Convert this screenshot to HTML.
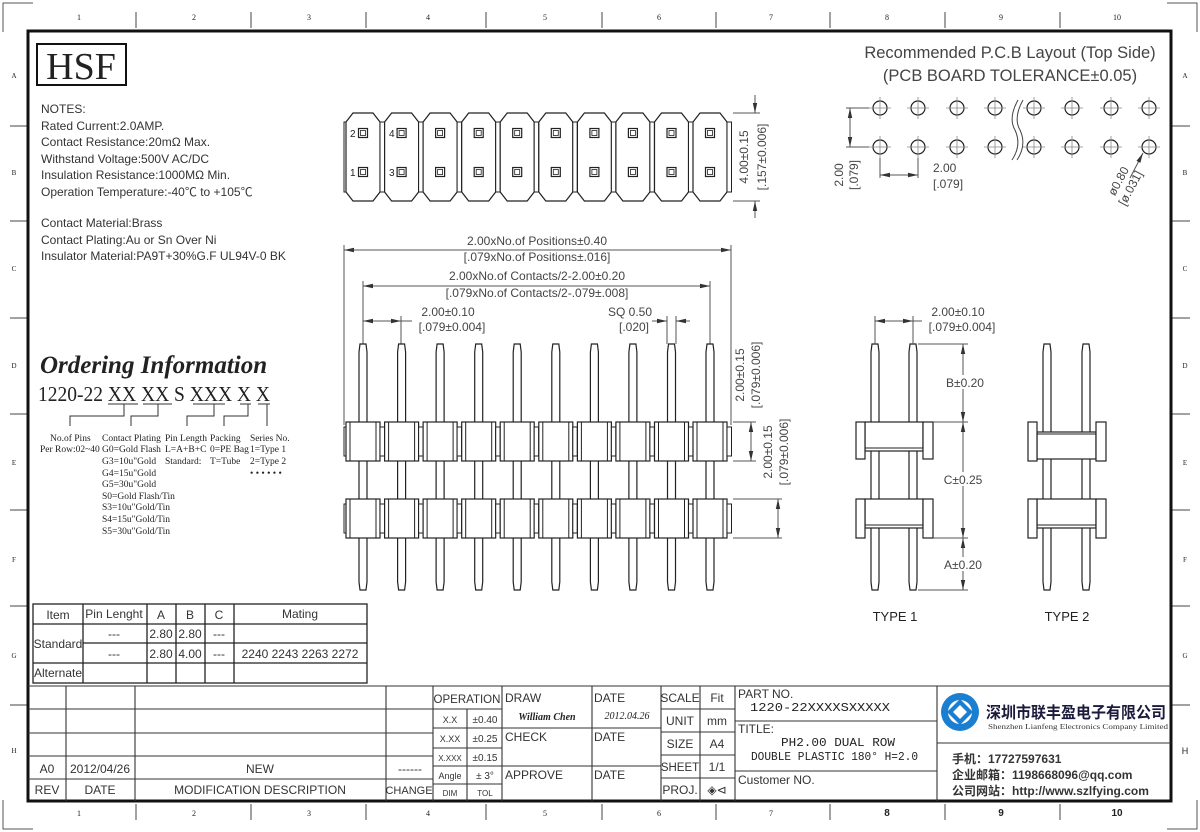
<!DOCTYPE html>
<html><head><meta charset="utf-8"><style>
html,body{margin:0;padding:0;background:#fff;}
svg{display:block;}
text{font-family:"Liberation Sans","Noto Sans CJK SC",sans-serif;fill:#222;}
.s{font-family:"Liberation Serif","Noto Serif CJK SC",serif;}
.m{font-family:"Liberation Mono",monospace;}
.t{font-size:12px;fill:#333;}
.d{font-size:12px;fill:#444;}
</style></head><body>
<svg width="1200" height="832" viewBox="0 0 1200 832" xmlns="http://www.w3.org/2000/svg">
<defs>
<marker id="a" viewBox="0 0 10 6" refX="10" refY="3" markerWidth="10" markerHeight="6" orient="auto-start-reverse" markerUnits="userSpaceOnUse"><path d="M0,0.8L10,3L0,5.2Z" fill="#333"/></marker>
<g id="tc">
<path d="M-10,113 L10,113 L17,122 L17,192 L10,201 L-10,201 L-17,192 L-17,122 Z" fill="#fff" stroke="#222" stroke-width="1.2"/>
<rect x="17" y="122" width="4.5" height="70" fill="#fff" stroke="#222" stroke-width="1"/>
<rect x="-4.5" y="128.5" width="9" height="9" fill="none" stroke="#222" stroke-width="1.2"/>
<rect x="-2.5" y="130.5" width="5" height="5" fill="none" stroke="#222" stroke-width="0.8"/>
<rect x="-4.5" y="167.5" width="9" height="9" fill="none" stroke="#222" stroke-width="1.2"/>
<rect x="-2.5" y="169.5" width="5" height="5" fill="none" stroke="#222" stroke-width="0.8"/>
</g>
<g id="pin">
<path d="M-3,344 L3,344 L4,352 L4,582 L3,590 L-3,590 L-4,582 L-4,352 Z" fill="#fff" stroke="#222" stroke-width="1.2"/>
</g>
<g id="fb">
<rect x="-17" y="0" width="34" height="39" fill="#fff" stroke="#222" stroke-width="1.2"/>
<line x1="-13" y1="0" x2="-13" y2="39" stroke="#222"/>
<line x1="13" y1="0" x2="13" y2="39" stroke="#222"/>
<rect x="17" y="5" width="4.5" height="29" fill="#fff" stroke="#222"/>
</g>
<g id="ph">
<circle r="7" fill="none" stroke="#222" stroke-width="1.2"/>
<line x1="-11" y1="0" x2="11" y2="0" stroke="#888" stroke-width="0.8"/>
<line x1="0" y1="-11" x2="0" y2="11" stroke="#888" stroke-width="0.8"/>
</g>
</defs>

<path d="M3,32 L3,3 L33,3" fill="none" stroke="#555"/>
<path d="M3,800 L3,829 L33,829" fill="none" stroke="#555"/>
<path d="M1167,3 L1197,3 L1197,32" fill="none" stroke="#555"/>
<path d="M1167,829 L1197,829 L1197,800" fill="none" stroke="#555"/>
<g stroke="#444" stroke-width="1">
<line x1="136" y1="12" x2="136" y2="28"/><line x1="251" y1="12" x2="251" y2="28"/><line x1="366" y1="12" x2="366" y2="28"/><line x1="486" y1="12" x2="486" y2="28"/><line x1="602" y1="12" x2="602" y2="28"/><line x1="716" y1="12" x2="716" y2="28"/><line x1="830" y1="12" x2="830" y2="28"/><line x1="945" y1="12" x2="945" y2="28"/><line x1="1060" y1="12" x2="1060" y2="28"/>
<line x1="136" y1="804" x2="136" y2="820"/><line x1="251" y1="804" x2="251" y2="820"/><line x1="366" y1="804" x2="366" y2="820"/><line x1="486" y1="804" x2="486" y2="820"/><line x1="602" y1="804" x2="602" y2="820"/><line x1="716" y1="804" x2="716" y2="820"/><line x1="830" y1="804" x2="830" y2="820"/><line x1="945" y1="804" x2="945" y2="820"/><line x1="1060" y1="804" x2="1060" y2="820"/>
<line x1="10" y1="126" x2="27" y2="126"/><line x1="10" y1="221" x2="27" y2="221"/><line x1="10" y1="318" x2="27" y2="318"/><line x1="10" y1="414" x2="27" y2="414"/><line x1="10" y1="510" x2="27" y2="510"/><line x1="10" y1="606" x2="27" y2="606"/><line x1="10" y1="705" x2="27" y2="705"/>
<line x1="1172" y1="126" x2="1190" y2="126"/><line x1="1172" y1="221" x2="1190" y2="221"/><line x1="1172" y1="318" x2="1190" y2="318"/><line x1="1172" y1="414" x2="1190" y2="414"/><line x1="1172" y1="510" x2="1190" y2="510"/><line x1="1172" y1="606" x2="1190" y2="606"/><line x1="1172" y1="705" x2="1190" y2="705"/>
</g>
<g text-anchor="middle" fill="#444">
<text x="79" y="20" class="s" font-size="8">1</text><text x="194" y="20" class="s" font-size="8">2</text><text x="309" y="20" class="s" font-size="8">3</text><text x="428" y="20" class="s" font-size="8">4</text><text x="545" y="20" class="s" font-size="8">5</text><text x="659" y="20" class="s" font-size="8">6</text><text x="771" y="20" class="s" font-size="8">7</text><text x="887" y="20" class="s" font-size="8">8</text><text x="1001" y="20" class="s" font-size="8">9</text><text x="1117" y="20" class="s" font-size="8">10</text>
<text x="79" y="816" class="s" font-size="8">1</text><text x="194" y="816" class="s" font-size="8">2</text><text x="309" y="816" class="s" font-size="8">3</text><text x="428" y="816" class="s" font-size="8">4</text><text x="545" y="816" class="s" font-size="8">5</text><text x="659" y="816" class="s" font-size="8">6</text><text x="771" y="816" class="s" font-size="8">7</text><text x="887" y="816" font-size="10" font-weight="bold">8</text><text x="1001" y="816" font-size="10" font-weight="bold">9</text><text x="1117" y="816" font-size="10" font-weight="bold">10</text>
<text x="14" y="78" class="s" font-size="7">A</text><text x="14" y="175" class="s" font-size="7">B</text><text x="14" y="271" class="s" font-size="7">C</text><text x="14" y="368" class="s" font-size="7">D</text><text x="14" y="465" class="s" font-size="7">E</text><text x="14" y="562" class="s" font-size="7">F</text><text x="14" y="658" class="s" font-size="7">G</text><text x="14" y="753" class="s" font-size="7">H</text>
<text x="1185" y="78" class="s" font-size="7">A</text><text x="1185" y="175" class="s" font-size="7">B</text><text x="1185" y="271" class="s" font-size="7">C</text><text x="1185" y="368" class="s" font-size="7">D</text><text x="1185" y="465" class="s" font-size="7">E</text><text x="1185" y="562" class="s" font-size="7">F</text><text x="1185" y="658" class="s" font-size="7">G</text><text x="1185" y="754" font-size="9">H</text>
</g>
<rect x="28" y="31" width="1143" height="770" fill="none" stroke="#111" stroke-width="3"/>

<rect x="37" y="44" width="89" height="41" fill="none" stroke="#111" stroke-width="2"/>
<text x="81" y="79" class="s" font-size="38" text-anchor="middle" fill="#111">HSF</text>

<g>
<text x="41" y="113" class="t" font-size="12.5">NOTES:</text>
<text x="41" y="130" class="t">Rated Current:2.0AMP.</text>
<text x="41" y="146" class="t">Contact Resistance:20mΩ Max.</text>
<text x="41" y="163" class="t">Withstand Voltage:500V AC/DC</text>
<text x="41" y="179" class="t">Insulation Resistance:1000MΩ Min.</text>
<text x="41" y="196" class="t">Operation Temperature:-40℃ to +105℃</text>
<text x="41" y="227" class="t">Contact Material:Brass</text>
<text x="41" y="244" class="t">Contact Plating:Au or Sn Over Ni</text>
<text x="41" y="260" class="t">Insulator Material:PA9T+30%G.F UL94V-0 BK</text>
</g>

<text x="40" y="373" class="s" font-size="25" font-weight="bold" font-style="italic" fill="#111">Ordering Information</text>
<text x="38" y="401" class="s" font-size="21" fill="#111" textLength="232" lengthAdjust="spacingAndGlyphs">1220-22 XX XX S XXX X X</text>
<g stroke="#333" fill="none">
<line x1="108" y1="404" x2="138" y2="404"/><line x1="143" y1="404" x2="172" y2="404"/><line x1="193" y1="404" x2="225" y2="404"/><line x1="240" y1="404" x2="251" y2="404"/><line x1="258" y1="404" x2="270" y2="404"/>
<path d="M124,404 V416 H70 V426"/><path d="M158,404 V416 H131 V426"/><path d="M214,404 V416 H187 V426"/><path d="M248,404 V416 H224 V426"/><path d="M267,404 V426"/>
</g>
<g fill="#111">
<text x="50" y="441" class="s" font-size="9.5">No.of Pins</text>
<text x="40" y="452" class="s" font-size="9.5">Per Row:02~40</text>
<text x="102" y="441" class="s" font-size="9.5">Contact Plating</text>
<text x="102" y="452" class="s" font-size="9.5">G0=Gold Flash</text>
<text x="102" y="464" class="s" font-size="9.5">G3=10u"Gold</text>
<text x="102" y="476" class="s" font-size="9.5">G4=15u"Gold</text>
<text x="102" y="487" class="s" font-size="9.5">G5=30u"Gold</text>
<text x="102" y="499" class="s" font-size="9.5">S0=Gold Flash/Tin</text>
<text x="102" y="510" class="s" font-size="9.5">S3=10u"Gold/Tin</text>
<text x="102" y="522" class="s" font-size="9.5">S4=15u"Gold/Tin</text>
<text x="102" y="534" class="s" font-size="9.5">S5=30u"Gold/Tin</text>
<text x="165" y="441" class="s" font-size="9.5">Pin Length</text>
<text x="165" y="452" class="s" font-size="9.5">L=A+B+C</text>
<text x="165" y="464" class="s" font-size="9.5">Standard:</text>
<text x="210" y="441" class="s" font-size="9.5">Packing</text>
<text x="210" y="452" class="s" font-size="9.5">0=PE Bag</text>
<text x="210" y="464" class="s" font-size="9.5">T=Tube</text>
<text x="250" y="441" class="s" font-size="9.5">Series No.</text>
<text x="250" y="452" class="s" font-size="9.5">1=Type 1</text>
<text x="250" y="464" class="s" font-size="9.5">2=Type 2</text>
<text x="250" y="476" class="s" font-size="9.5">• • • • • •</text>
</g>

<rect x="344" y="122" width="3" height="70" fill="#fff" stroke="#222"/>
<use href="#tc" x="363"/><use href="#tc" x="401.6"/><use href="#tc" x="440.1"/><use href="#tc" x="478.7"/><use href="#tc" x="517.2"/><use href="#tc" x="555.8"/><use href="#tc" x="594.4"/><use href="#tc" x="632.9"/><use href="#tc" x="671.5"/><use href="#tc" x="710"/>
<g><text x="350" y="137" font-size="10">2</text><text x="350" y="176" font-size="10">1</text><text x="389" y="137" font-size="10">4</text><text x="389" y="176" font-size="10">3</text></g>
<g stroke="#555" fill="none">
<line x1="733" y1="113" x2="760" y2="113"/><line x1="733" y1="201" x2="760" y2="201"/>
<line x1="755" y1="95" x2="755" y2="113" marker-end="url(#a)"/><line x1="755" y1="218" x2="755" y2="201" marker-end="url(#a)"/>
</g>
<text transform="translate(748,157) rotate(-90)" class="d" text-anchor="middle">4.00±0.15</text>
<text transform="translate(766,157) rotate(-90)" class="d" text-anchor="middle">[.157±0.006]</text>

<g stroke="#555" fill="none">
<line x1="344" y1="245" x2="344" y2="425"/><line x1="731" y1="245" x2="731" y2="425"/>
<line x1="344" y1="250" x2="731" y2="250" marker-start="url(#a)" marker-end="url(#a)"/>
<line x1="363" y1="281" x2="363" y2="344"/><line x1="710" y1="281" x2="710" y2="344"/>
<line x1="363" y1="286" x2="710" y2="286" marker-start="url(#a)" marker-end="url(#a)"/>
<line x1="401" y1="316" x2="401" y2="344"/>
<line x1="363" y1="321" x2="401" y2="321" marker-start="url(#a)" marker-end="url(#a)"/>
<line x1="401" y1="321" x2="412" y2="321"/>
<line x1="667" y1="316" x2="667" y2="344"/><line x1="676" y1="316" x2="676" y2="344"/>
<line x1="652" y1="321" x2="667" y2="321" marker-end="url(#a)"/><line x1="690" y1="321" x2="676" y2="321" marker-end="url(#a)"/>
<line x1="733" y1="422" x2="756" y2="422"/><line x1="733" y1="461" x2="756" y2="461"/>
<line x1="751" y1="422" x2="751" y2="461" marker-start="url(#a)" marker-end="url(#a)"/>
<line x1="733" y1="499" x2="782" y2="499"/><line x1="733" y1="538" x2="782" y2="538"/>
<line x1="778" y1="499" x2="778" y2="538" marker-start="url(#a)" marker-end="url(#a)"/>
</g>
<g text-anchor="middle">
<text x="537" y="245" class="d">2.00xNo.of Positions±0.40</text>
<text x="537" y="261" class="d">[.079xNo.of Positions±.016]</text>
<text x="537" y="280" class="d">2.00xNo.of Contacts/2-2.00±0.20</text>
<text x="537" y="297" class="d">[.079xNo.of Contacts/2-.079±.008]</text>
<text x="448" y="316" class="d">2.00±0.10</text>
<text x="452" y="331" class="d">[.079±0.004]</text>
<text x="630" y="316" class="d">SQ 0.50</text>
<text x="634" y="331" class="d">[.020]</text>
</g>
<text transform="translate(744,375) rotate(-90)" class="d" text-anchor="middle">2.00±0.15</text>
<text transform="translate(760,375) rotate(-90)" class="d" text-anchor="middle">[.079±0.006]</text>
<text transform="translate(772,452) rotate(-90)" class="d" text-anchor="middle">2.00±0.15</text>
<text transform="translate(788,452) rotate(-90)" class="d" text-anchor="middle">[.079±0.006]</text>

<use href="#pin" x="363"/><use href="#pin" x="401.6"/><use href="#pin" x="440.1"/><use href="#pin" x="478.7"/><use href="#pin" x="517.2"/><use href="#pin" x="555.8"/><use href="#pin" x="594.4"/><use href="#pin" x="632.9"/><use href="#pin" x="671.5"/><use href="#pin" x="710"/>
<rect x="344" y="427" width="3" height="29" fill="#fff" stroke="#222"/>
<rect x="344" y="504" width="3" height="29" fill="#fff" stroke="#222"/>
<g>
<use href="#fb" x="363" y="422"/><use href="#fb" x="401.6" y="422"/><use href="#fb" x="440.1" y="422"/><use href="#fb" x="478.7" y="422"/><use href="#fb" x="517.2" y="422"/><use href="#fb" x="555.8" y="422"/><use href="#fb" x="594.4" y="422"/><use href="#fb" x="632.9" y="422"/><use href="#fb" x="671.5" y="422"/><use href="#fb" x="710" y="422"/>
<use href="#fb" x="363" y="499"/><use href="#fb" x="401.6" y="499"/><use href="#fb" x="440.1" y="499"/><use href="#fb" x="478.7" y="499"/><use href="#fb" x="517.2" y="499"/><use href="#fb" x="555.8" y="499"/><use href="#fb" x="594.4" y="499"/><use href="#fb" x="632.9" y="499"/><use href="#fb" x="671.5" y="499"/><use href="#fb" x="710" y="499"/>
</g>

<text x="1010" y="58" font-size="16.5" style="fill:#444" text-anchor="middle">Recommended P.C.B Layout (Top Side)</text>
<text x="1010" y="81" font-size="16.5" style="fill:#444" text-anchor="middle">(PCB BOARD TOLERANCE±0.05)</text>
<use href="#ph" x="880" y="108"/><use href="#ph" x="918" y="108"/><use href="#ph" x="957" y="108"/><use href="#ph" x="995" y="108"/><use href="#ph" x="1034" y="108"/><use href="#ph" x="1072" y="108"/><use href="#ph" x="1111" y="108"/><use href="#ph" x="1149" y="108"/>
<use href="#ph" x="880" y="147"/><use href="#ph" x="918" y="147"/><use href="#ph" x="957" y="147"/><use href="#ph" x="995" y="147"/><use href="#ph" x="1034" y="147"/><use href="#ph" x="1072" y="147"/><use href="#ph" x="1111" y="147"/><use href="#ph" x="1149" y="147"/>
<path d="M1018,100 Q1008,118 1015,130 Q1022,145 1012,160" fill="none" stroke="#444"/>
<path d="M1023,100 Q1013,118 1020,130 Q1027,145 1017,160" fill="none" stroke="#444"/>
<g stroke="#555" fill="none">
<line x1="846" y1="108" x2="869" y2="108"/><line x1="846" y1="147" x2="869" y2="147"/>
<line x1="850" y1="108" x2="850" y2="147" marker-start="url(#a)" marker-end="url(#a)"/>
<line x1="880" y1="158" x2="880" y2="178"/><line x1="918" y1="158" x2="918" y2="178"/>
<line x1="880" y1="175" x2="918" y2="175" marker-start="url(#a)" marker-end="url(#a)"/>
<line x1="1130" y1="178" x2="1143" y2="153" marker-end="url(#a)"/>
</g>
<text transform="translate(843,175) rotate(-90)" class="d" text-anchor="middle">2.00</text>
<text transform="translate(858,175) rotate(-90)" class="d" text-anchor="middle">[.079]</text>
<text x="933" y="172" class="d">2.00</text>
<text x="933" y="188" class="d">[.079]</text>
<text transform="translate(1122,183) rotate(-62)" class="d" font-size="11" text-anchor="middle">ø0.80</text>
<text transform="translate(1134,190) rotate(-62)" class="d" font-size="11" text-anchor="middle">[ø.031]</text>

<use href="#pin" x="875"/><use href="#pin" x="913"/>
<g fill="#fff" stroke="#222" stroke-width="1.2">
<rect x="865" y="422" width="58" height="29"/><rect x="865" y="499" width="58" height="29"/>
<rect x="856" y="422" width="9" height="37"/><rect x="923" y="422" width="10" height="37"/>
<rect x="856" y="499" width="9" height="39"/><rect x="923" y="499" width="10" height="39"/>
</g>
<g stroke="#222"><line x1="865" y1="448" x2="923" y2="448"/><line x1="865" y1="525" x2="923" y2="525"/></g>
<g stroke="#555" fill="none">
<line x1="875" y1="316" x2="875" y2="344"/><line x1="913" y1="316" x2="913" y2="344"/>
<line x1="875" y1="321" x2="913" y2="321" marker-start="url(#a)" marker-end="url(#a)"/>
<line x1="913" y1="321" x2="922" y2="321"/>
<line x1="918" y1="344" x2="968" y2="344"/><line x1="933" y1="422" x2="968" y2="422"/><line x1="933" y1="538" x2="968" y2="538"/><line x1="918" y1="590" x2="968" y2="590"/>
<line x1="963" y1="344" x2="963" y2="422" marker-start="url(#a)" marker-end="url(#a)"/>
<line x1="963" y1="422" x2="963" y2="538" marker-start="url(#a)" marker-end="url(#a)"/>
<line x1="963" y1="538" x2="963" y2="590" marker-start="url(#a)" marker-end="url(#a)"/>
</g>
<rect x="944" y="375" width="40" height="14" fill="#fff"/><rect x="942" y="472" width="42" height="14" fill="#fff"/><rect x="942" y="557" width="42" height="14" fill="#fff"/>
<g text-anchor="middle">
<text x="958" y="316" class="d">2.00±0.10</text>
<text x="962" y="331" class="d">[.079±0.004]</text>
<text x="965" y="387" class="d">B±0.20</text>
<text x="963" y="484" class="d">C±0.25</text>
<text x="963" y="569" class="d">A±0.20</text>
</g>
<text x="895" y="621" font-size="13" text-anchor="middle">TYPE 1</text>
<use href="#pin" x="1047"/><use href="#pin" x="1086"/>
<g fill="#fff" stroke="#222" stroke-width="1.2">
<rect x="1037" y="432" width="59" height="27"/><rect x="1037" y="499" width="59" height="29"/>
<rect x="1028" y="422" width="9" height="39"/><rect x="1096" y="422" width="10" height="39"/>
<rect x="1028" y="499" width="9" height="39"/><rect x="1096" y="499" width="10" height="39"/>
</g>
<g stroke="#222"><line x1="1037" y1="434" x2="1096" y2="434"/><line x1="1037" y1="525" x2="1096" y2="525"/></g>
<text x="1067" y="621" font-size="13" text-anchor="middle">TYPE 2</text>

<g stroke="#222" stroke-width="1.3" fill="none">
<rect x="33" y="604" width="334" height="79"/>
<line x1="83" y1="604" x2="83" y2="683"/><line x1="147" y1="604" x2="147" y2="663"/><line x1="176" y1="604" x2="176" y2="683"/><line x1="205" y1="604" x2="205" y2="683"/><line x1="234" y1="604" x2="234" y2="683"/>
<line x1="33" y1="624" x2="367" y2="624"/><line x1="83" y1="643" x2="367" y2="643"/><line x1="33" y1="663" x2="367" y2="663"/>
<line x1="147" y1="663" x2="147" y2="683"/>
</g>
<g text-anchor="middle">
<text x="58" y="619" class="t">Item</text><text x="114" y="618" class="t">Pin Lenght</text><text x="161" y="619" class="t">A</text><text x="190" y="619" class="t">B</text><text x="219" y="619" class="t">C</text><text x="300" y="618" class="t">Mating</text>
<text x="58" y="648" class="t">Standard</text>
<text x="114" y="638" class="t">---</text><text x="161" y="638" class="t">2.80</text><text x="190" y="638" class="t">2.80</text><text x="219" y="638" class="t">---</text>
<text x="114" y="658" class="t">---</text><text x="161" y="658" class="t">2.80</text><text x="190" y="658" class="t">4.00</text><text x="219" y="658" class="t">---</text><text x="300" y="658" class="t">2240 2243 2263 2272</text>
<text x="58" y="677" class="t">Alternate</text>
</g>

<g stroke="#333" stroke-width="1.1" fill="none">
<line x1="28" y1="686" x2="1171" y2="686"/>
<line x1="28" y1="709" x2="433" y2="709"/><line x1="28" y1="733" x2="433" y2="733"/><line x1="28" y1="756" x2="433" y2="756"/><line x1="28" y1="779" x2="433" y2="779"/>
<line x1="66" y1="686" x2="66" y2="801"/><line x1="135" y1="686" x2="135" y2="801"/><line x1="386" y1="686" x2="386" y2="801"/><line x1="433" y1="686" x2="433" y2="801"/>
<line x1="433" y1="709" x2="502" y2="709"/><line x1="433" y1="728" x2="502" y2="728"/><line x1="433" y1="748" x2="502" y2="748"/><line x1="433" y1="766" x2="502" y2="766"/><line x1="433" y1="784" x2="502" y2="784"/>
<line x1="467" y1="709" x2="467" y2="801"/><line x1="502" y1="686" x2="502" y2="801"/>
<line x1="502" y1="728" x2="661" y2="728"/><line x1="502" y1="766" x2="661" y2="766"/>
<line x1="592" y1="686" x2="592" y2="801"/><line x1="661" y1="686" x2="661" y2="801"/>
<line x1="661" y1="709" x2="735" y2="709"/><line x1="661" y1="732" x2="735" y2="732"/><line x1="661" y1="755" x2="735" y2="755"/><line x1="661" y1="778" x2="735" y2="778"/>
<line x1="700" y1="686" x2="700" y2="801"/><line x1="735" y1="686" x2="735" y2="801"/>
<line x1="735" y1="721" x2="937" y2="721"/><line x1="735" y1="771" x2="937" y2="771"/>
<line x1="937" y1="686" x2="937" y2="801"/><line x1="937" y1="743" x2="1171" y2="743"/>
</g>
<g>
<text x="47" y="773" class="t" text-anchor="middle">A0</text><text x="100" y="773" class="t" text-anchor="middle">2012/04/26</text><text x="260" y="773" class="t" text-anchor="middle">NEW</text><text x="410" y="773" class="t" text-anchor="middle">------</text>
<text x="47" y="794" class="t" text-anchor="middle">REV</text><text x="100" y="794" class="t" text-anchor="middle">DATE</text><text x="260" y="794" class="t" text-anchor="middle">MODIFICATION DESCRIPTION</text><text x="409" y="794" class="t" style="font-size:11px" text-anchor="middle">CHANGE</text>
<text x="467" y="703" class="t" style="font-size:11.5px" text-anchor="middle">OPERATION</text>
<text x="450" y="723" class="t" style="font-size:9px" text-anchor="middle">X.X</text><text x="485" y="723" class="t" style="font-size:10px" text-anchor="middle">±0.40</text>
<text x="450" y="742" class="t" style="font-size:9px" text-anchor="middle">X.XX</text><text x="485" y="742" class="t" style="font-size:10px" text-anchor="middle">±0.25</text>
<text x="450" y="761" class="t" style="font-size:8px" text-anchor="middle">X.XXX</text><text x="485" y="761" class="t" style="font-size:10px" text-anchor="middle">±0.15</text>
<text x="450" y="779" class="t" style="font-size:9px" text-anchor="middle">Angle</text><text x="485" y="779" class="t" style="font-size:10px" text-anchor="middle">± 3°</text>
<text x="450" y="796" class="t" style="font-size:8px" text-anchor="middle">DIM</text><text x="485" y="796" class="t" style="font-size:8px" text-anchor="middle">TOL</text>
<text x="505" y="702" class="t">DRAW</text><text x="505" y="741" class="t">CHECK</text><text x="505" y="779" class="t">APPROVE</text>
<text x="594" y="702" class="t">DATE</text><text x="594" y="741" class="t">DATE</text><text x="594" y="779" class="t">DATE</text>
<text x="547" y="720" class="s" font-size="10" font-style="italic" font-weight="bold" text-anchor="middle">William Chen</text>
<text x="627" y="719" class="s" font-size="10" font-style="italic" text-anchor="middle">2012.04.26</text>
<text x="680" y="702" class="t" text-anchor="middle">SCALE</text><text x="717" y="702" class="t" text-anchor="middle">Fit</text>
<text x="680" y="725" class="t" text-anchor="middle">UNIT</text><text x="717" y="725" class="t" text-anchor="middle">mm</text>
<text x="680" y="748" class="t" text-anchor="middle">SIZE</text><text x="717" y="748" class="t" text-anchor="middle">A4</text>
<text x="680" y="771" class="t" style="font-size:11.5px" text-anchor="middle">SHEET</text><text x="717" y="771" class="t" text-anchor="middle">1/1</text>
<text x="680" y="794" class="t" text-anchor="middle">PROJ.</text><text x="717" y="794" class="t" text-anchor="middle">◈⊲</text>
<text x="738" y="698" class="t">PART NO.</text>
<text x="738" y="733" class="t">TITLE:</text>
<text x="738" y="784" class="t">Customer NO.</text>
</g>
<text x="750" y="711" class="m" style="font-size:12px" textLength="140" lengthAdjust="spacingAndGlyphs">1220-22XXXXSXXXXX</text>
<text x="781" y="746" class="m" style="font-size:12px" textLength="114" lengthAdjust="spacingAndGlyphs">PH2.00 DUAL ROW</text>
<text x="751" y="760" class="m" style="font-size:12px" textLength="167" lengthAdjust="spacingAndGlyphs">DOUBLE PLASTIC 180° H=2.0</text>
<circle cx="960" cy="712" r="19" fill="#1a7fd0"/>
<circle cx="960" cy="712" r="12" fill="#fff"/>
<path d="M960,699 L973,712 L960,725 L947,712 Z" fill="#1a7fd0"/>
<path d="M960,705 L967,712 L960,719 L953,712 Z" fill="#fff"/>
<text x="986" y="718" style="font-size:16px;font-weight:bold;fill:#1a1a3a;font-family:'Noto Sans CJK SC',sans-serif" textLength="180" lengthAdjust="spacingAndGlyphs">深圳市联丰盈电子有限公司</text>
<text x="988" y="729" class="s" style="font-size:7.3px;fill:#333" textLength="180" lengthAdjust="spacingAndGlyphs">Shenzhen Lianfeng Electronics Company Limited</text>
<text x="952" y="763" style="font-size:12px;font-weight:bold;fill:#333">手机：17727597631</text>
<text x="952" y="779" style="font-size:12px;font-weight:bold;fill:#333">企业邮箱：1198668096@qq.com</text>
<text x="952" y="795" style="font-size:12px;font-weight:bold;fill:#333">公司网站：http://www.szlfying.com</text>
</svg>
</body></html>
